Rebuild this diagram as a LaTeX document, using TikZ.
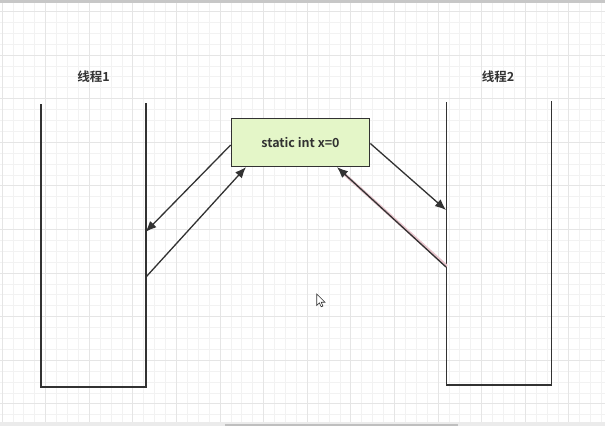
\documentclass[tikz,border=0pt]{standalone}
\usepackage{fontspec}
\setmainfont{Noto Sans CJK SC}[BoldFont={* Bold}]
\newfontfamily\cjkb{Noto Sans CJK SC Bold}
\usetikzlibrary{arrows.meta}
\definecolor{minorgrid}{RGB}{242,242,242}
\definecolor{majorgrid}{RGB}{229,229,229}
\definecolor{inkc}{RGB}{50,50,50}
\definecolor{boxfill}{RGB}{228,246,200}
\definecolor{pinkglow}{RGB}{232,196,204}
\tikzset{
  wall/.style={draw=inkc, line width=1.3pt},
  conn/.style={draw=inkc, line width=1.3pt, -{Latex[length=11pt,width=9pt]}},
  lbl/.style={font=\cjkb\fontsize{12.5}{14}\selectfont, text=inkc, inner sep=0pt},
  varbox/.style={draw=inkc, line width=1.2pt, fill=boxfill, minimum width=138.5pt, minimum height=48pt, inner sep=0pt, font=\cjkb\fontsize{12.5}{14}\selectfont, text=inkc}
}
\begin{document}
\begin{tikzpicture}[x=1pt,y=-1pt]
\useasboundingbox (0,0) rectangle (605,426);
\fill[white] (0,0) rectangle (605,426);
% grid
\foreach \k in {0,...,55} {
  \pgfmathsetmacro{\xx}{2+10.9*\k}
  \draw[minorgrid, line width=0.8pt] (\xx,0) -- (\xx,426);
}
\foreach \k in {0,...,39} {
  \pgfmathsetmacro{\yy}{0.5+10.9*\k}
  \draw[minorgrid, line width=0.8pt] (0,\yy) -- (605,\yy);
}
\foreach \k in {0,...,13} {
  \pgfmathsetmacro{\xx}{2+43.6*\k}
  \draw[majorgrid, line width=0.9pt] (\xx,0) -- (\xx,426);
}
\foreach \k in {0,...,9} {
  \pgfmathsetmacro{\yy}{11.4+43.6*\k}
  \draw[majorgrid, line width=0.9pt] (0,\yy) -- (605,\yy);
}
% window edges
\fill[black!22] (0,0) rectangle (605,2.5);
\fill[black!8] (0,422) rectangle (605,426);
\fill[black!25] (225,423.5) rectangle (458,426);

% containers
\coordinate (l1t) at (41,104);
\coordinate (l1b) at (41,387);
\coordinate (r1b) at (146,387);
\coordinate (r1t) at (146,103);
\coordinate (l2t) at (446.5,102);
\coordinate (l2b) at (446.5,385);
\coordinate (r2b) at (551.5,385);
\coordinate (r2t) at (551.5,101);
\draw[wall] (l1t) -- (l1b) -- (r1b) -- (r1t);
\draw[wall] (l2t) -- (l2b) -- (r2b) -- (r2t);

\node[lbl] (t1) at (93.5,77) {线程1};
\node[lbl] (t2) at (498,77) {线程2};

\node[varbox] (x) at (300.5,142.5) {static int x=0};

% connection points on walls
\coordinate (a1) at (145.5,232);
\coordinate (a2) at (146,277);
\coordinate (b1) at (446,210);
\coordinate (b2) at (446,267);

\draw[conn] (x.west |- 0,145) -- (a1);
\draw[conn] (a2) -- (x.south -| 246,0);
\draw[conn] (x.east |- 0,143.5) -- (b1);
\draw[pinkglow, line width=3pt] ([xshift=0.8pt,yshift=0.8pt]b2) -- (342,172);
\draw[conn] (b2) -- (x.south -| 337,0);

% mouse cursor
\draw[inkc, fill=white, line width=0.6pt, line join=miter]
  (316.7,294) -- (316.7,305.5) -- (319.4,302.8) -- (321.2,306.8) -- (322.9,306) -- (321.2,302.2) -- (325,302.2) -- cycle;
\end{tikzpicture}
\end{document}
